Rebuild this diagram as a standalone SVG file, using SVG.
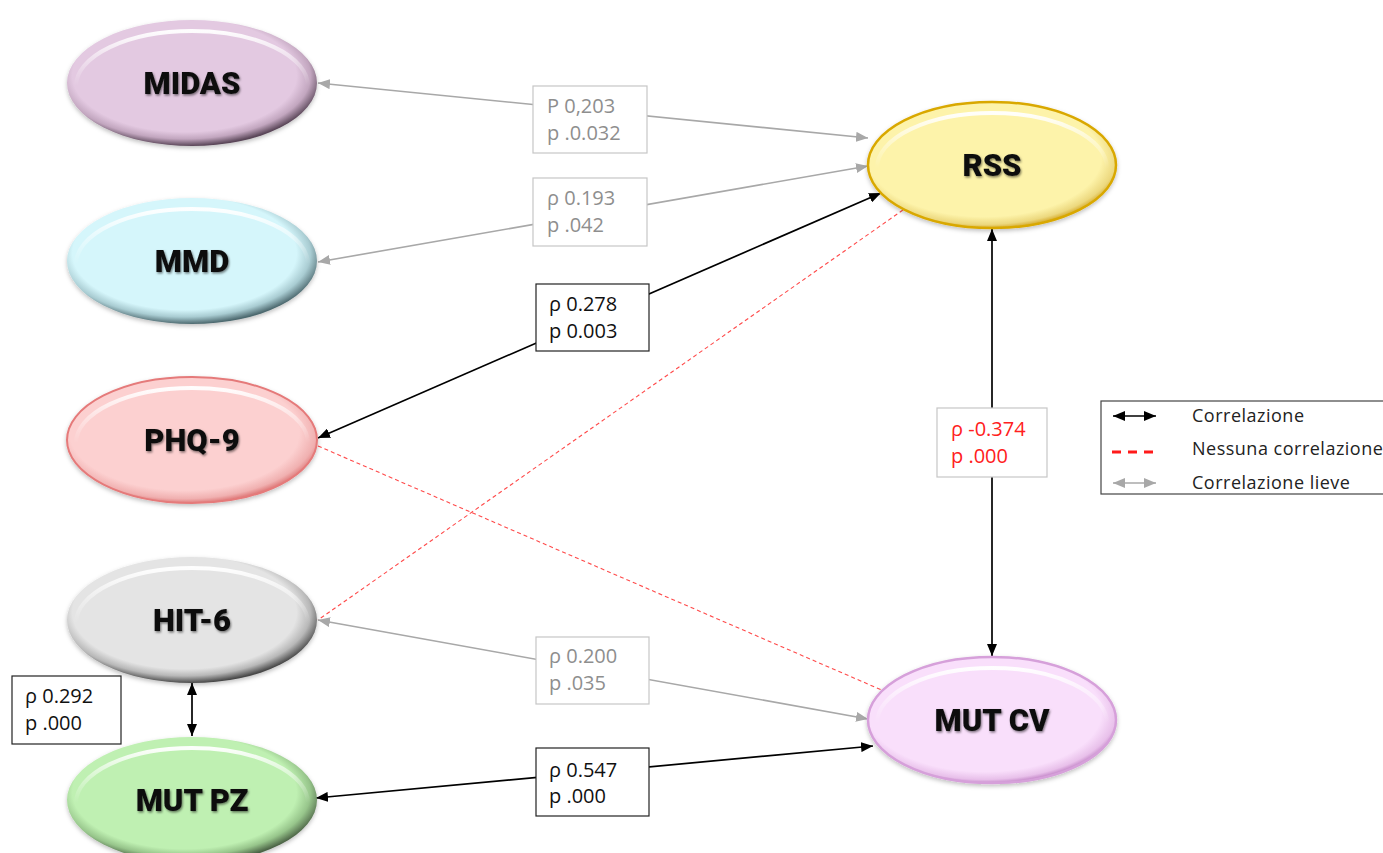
<svg xmlns="http://www.w3.org/2000/svg" width="1383" height="853" viewBox="0 0 1383 853">
  <style>
    .node-label { font-family: Roboto, "Liberation Sans", sans-serif; font-weight: 900; font-size: 31px; fill: #111; text-anchor: middle; }
    .gray-line { stroke: #a8a8a8; stroke-width: 1.6; fill: none; }
    .black-line { stroke: #000; stroke-width: 1.7; fill: none; }
    .red-dash { stroke: #ff4a4a; stroke-width: 1.1; stroke-dasharray: 4 3; fill: none; }
    .box { fill: #fff; stroke-width: 1.2; }
    .box-gray { stroke: #c6c6c6; }
    .box-black { stroke: #222; }
    .stat { font-family: "Open Sans", "Liberation Sans", sans-serif; font-size: 20px; }
    .stat-gray { fill: #8e8e8e; }
    .stat-black { fill: #111; }
    .stat-red { fill: #ff2020; }
    .legend-text { font-family: "Open Sans", "Liberation Sans", sans-serif; font-size: 18px; letter-spacing: 0.5px; fill: #222; }
    .gloss { fill: none; stroke: url(#gloss); stroke-width: 4; }
  </style>
  <defs>
    <marker id="ah-gray" viewBox="0 0 12 10" refX="12" refY="5" markerWidth="12" markerHeight="10" markerUnits="userSpaceOnUse" orient="auto-start-reverse">
      <path d="M0,0 L12,5 L0,10 z" fill="#a8a8a8"/>
    </marker>
    <marker id="ah-black" viewBox="0 0 12 10" refX="12" refY="5" markerWidth="12" markerHeight="10" markerUnits="userSpaceOnUse" orient="auto-start-reverse">
      <path d="M0,0 L12,5 L0,10 z" fill="#000"/>
    </marker>
    <linearGradient id="gloss" x1="0" y1="0" x2="0" y2="1">
      <stop offset="0" stop-color="#fff" stop-opacity="0.95"/>
      <stop offset="0.3" stop-color="#fff" stop-opacity="0.35"/>
      <stop offset="0.5" stop-color="#fff" stop-opacity="0"/>
    </linearGradient>
    <radialGradient id="g-midas" cx="0.47" cy="0.44" r="0.56">
      <stop offset="0" stop-color="#e3c9e1"/>
      <stop offset="0.8" stop-color="#e3c9e1"/>
      <stop offset="0.9" stop-color="#c2a6bf"/>
      <stop offset="1" stop-color="#5a4658"/>
    </radialGradient>
    <radialGradient id="g-mmd" cx="0.47" cy="0.44" r="0.56">
      <stop offset="0" stop-color="#d5f6fb"/>
      <stop offset="0.8" stop-color="#d5f6fb"/>
      <stop offset="0.9" stop-color="#a9ccd2"/>
      <stop offset="1" stop-color="#4e6a70"/>
    </radialGradient>
    <radialGradient id="g-phq" cx="0.47" cy="0.44" r="0.56">
      <stop offset="0" stop-color="#fcd0d0"/>
      <stop offset="0.82" stop-color="#fcd0d0"/>
      <stop offset="0.94" stop-color="#f0b0b0"/>
      <stop offset="1" stop-color="#e07e7e"/>
    </radialGradient>
    <radialGradient id="g-hit" cx="0.47" cy="0.44" r="0.56">
      <stop offset="0" stop-color="#e4e4e4"/>
      <stop offset="0.8" stop-color="#e4e4e4"/>
      <stop offset="0.9" stop-color="#b8b8b8"/>
      <stop offset="1" stop-color="#4a4a4a"/>
    </radialGradient>
    <radialGradient id="g-pz" cx="0.47" cy="0.44" r="0.56">
      <stop offset="0" stop-color="#bff0b2"/>
      <stop offset="0.8" stop-color="#bff0b2"/>
      <stop offset="0.9" stop-color="#97c58b"/>
      <stop offset="1" stop-color="#4c6446"/>
    </radialGradient>
    <radialGradient id="g-rss" cx="0.47" cy="0.44" r="0.56">
      <stop offset="0" stop-color="#fdf3aa"/>
      <stop offset="0.84" stop-color="#fdf3aa"/>
      <stop offset="0.95" stop-color="#ecd87e"/>
      <stop offset="1" stop-color="#d9b23a"/>
    </radialGradient>
    <radialGradient id="g-cv" cx="0.47" cy="0.44" r="0.56">
      <stop offset="0" stop-color="#f9dffb"/>
      <stop offset="0.84" stop-color="#f9dffb"/>
      <stop offset="0.95" stop-color="#e8c0ea"/>
      <stop offset="1" stop-color="#c98fcd"/>
    </radialGradient>
    <filter id="soft" x="-10%" y="-10%" width="120%" height="130%">
      <feDropShadow dx="0" dy="2" stdDeviation="2" flood-color="#000" flood-opacity="0.25"/>
    </filter>
    <filter id="txt" x="-10%" y="-20%" width="120%" height="150%">
      <feDropShadow dx="1" dy="1.5" stdDeviation="1.2" flood-color="#000" flood-opacity="0.5"/>
    </filter>
  </defs>

  <rect width="1383" height="853" fill="#fff"/>

  <!-- connectors -->
  <g id="connectors">
    <line class="red-dash" x1="903" y1="210" x2="318" y2="620"/>
    <line class="red-dash" x1="318" y1="446" x2="884" y2="691"/>
    <line class="gray-line" x1="318" y1="83" x2="868" y2="138" marker-start="url(#ah-gray)" marker-end="url(#ah-gray)"/>
    <line class="gray-line" x1="318" y1="262" x2="868" y2="166" marker-start="url(#ah-gray)" marker-end="url(#ah-gray)"/>
    <line class="black-line" x1="318" y1="438" x2="881" y2="193" marker-start="url(#ah-black)" marker-end="url(#ah-black)"/>
    <line class="black-line" x1="992" y1="229" x2="992" y2="656" marker-start="url(#ah-black)" marker-end="url(#ah-black)"/>
    <line class="gray-line" x1="318" y1="620" x2="868" y2="719" marker-start="url(#ah-gray)" marker-end="url(#ah-gray)"/>
    <line class="black-line" x1="316" y1="798" x2="873" y2="746" marker-start="url(#ah-black)" marker-end="url(#ah-black)"/>
    <line class="black-line" x1="192" y1="683" x2="192" y2="736" marker-start="url(#ah-black)" marker-end="url(#ah-black)"/>

    <!-- coefficient labels -->
    <g id="lbl-midas-rss">
      <rect class="box box-gray" x="533" y="86" width="114" height="67"/>
      <text class="stat stat-gray" x="547" y="113">P 0,203</text>
      <text class="stat stat-gray" x="547" y="140">p .0.032</text>
    </g>
    <g id="lbl-mmd-rss">
      <rect class="box box-gray" x="533" y="178" width="114" height="68"/>
      <text class="stat stat-gray" x="547" y="205">ρ 0.193</text>
      <text class="stat stat-gray" x="547" y="232">p .042</text>
    </g>
    <g id="lbl-phq-rss">
      <rect class="box box-black" x="536" y="284" width="113" height="67"/>
      <text class="stat stat-black" x="549" y="311">ρ 0.278</text>
      <text class="stat stat-black" x="549" y="338">p 0.003</text>
    </g>
    <g id="lbl-rss-cv">
      <rect class="box box-gray" x="937" y="408" width="110" height="69"/>
      <text class="stat stat-red" x="951" y="436">ρ -0.374</text>
      <text class="stat stat-red" x="951" y="463">p .000</text>
    </g>
    <g id="lbl-hit-cv">
      <rect class="box box-gray" x="536" y="637" width="113" height="67"/>
      <text class="stat stat-gray" x="549" y="663">ρ 0.200</text>
      <text class="stat stat-gray" x="549" y="690">p .035</text>
    </g>
    <g id="lbl-pz-cv">
      <rect class="box box-black" x="536" y="748" width="113" height="68"/>
      <text class="stat stat-black" x="549" y="777">ρ 0.547</text>
      <text class="stat stat-black" x="549" y="803">p .000</text>
    </g>
    <g id="lbl-hit-pz">
      <rect class="box box-black" x="12" y="676" width="109" height="68"/>
      <text class="stat stat-black" x="25" y="703">ρ 0.292</text>
      <text class="stat stat-black" x="25" y="730">p .000</text>
    </g>
  </g>

  <!-- nodes -->
  <g id="midas">
    <ellipse cx="192" cy="83" rx="125" ry="63" fill="url(#g-midas)" filter="url(#soft)"/>
    <ellipse class="gloss" cx="192" cy="86" rx="116" ry="55"/>
    <text class="node-label" x="192" y="94" filter="url(#txt)">MIDAS</text>
  </g>
  <g id="mmd">
    <ellipse cx="192" cy="261" rx="125" ry="63" fill="url(#g-mmd)" filter="url(#soft)"/>
    <ellipse class="gloss" cx="192" cy="264" rx="116" ry="55"/>
    <text class="node-label" x="192" y="272" filter="url(#txt)">MMD</text>
  </g>
  <g id="phq9">
    <ellipse cx="192" cy="440" rx="125" ry="63" fill="url(#g-phq)" stroke="#e57a7a" stroke-width="2" filter="url(#soft)"/>
    <ellipse class="gloss" cx="192" cy="443" rx="116" ry="55"/>
    <text class="node-label" x="192" y="451" filter="url(#txt)">PHQ-9</text>
  </g>
  <g id="hit6">
    <ellipse cx="192" cy="620" rx="125" ry="63" fill="url(#g-hit)" filter="url(#soft)"/>
    <ellipse class="gloss" cx="192" cy="623" rx="116" ry="55"/>
    <text class="node-label" x="192" y="631" filter="url(#txt)">HIT-6</text>
  </g>
  <g id="mutpz">
    <ellipse cx="192" cy="800" rx="125" ry="63" fill="url(#g-pz)" filter="url(#soft)"/>
    <ellipse class="gloss" cx="192" cy="803" rx="116" ry="55"/>
    <text class="node-label" x="192" y="811" filter="url(#txt)">MUT PZ</text>
  </g>
  <g id="rss">
    <ellipse cx="992" cy="165" rx="124" ry="63" fill="url(#g-rss)" stroke="#d9a800" stroke-width="2.5" filter="url(#soft)"/>
    <ellipse class="gloss" cx="992" cy="168" rx="115" ry="55"/>
    <text class="node-label" x="992" y="176" filter="url(#txt)">RSS</text>
  </g>
  <g id="mutcv">
    <ellipse cx="992" cy="720" rx="124" ry="63" fill="url(#g-cv)" stroke="#d6a0da" stroke-width="2.5" filter="url(#soft)"/>
    <ellipse class="gloss" cx="992" cy="723" rx="115" ry="55"/>
    <text class="node-label" x="992" y="731" filter="url(#txt)">MUT CV</text>
  </g>

  <!-- legend -->
  <g id="legend">
    <rect x="1101" y="401" width="300" height="93" fill="#fff" stroke="#444" stroke-width="1.2"/>
    <line class="black-line" x1="1113" y1="416" x2="1156" y2="416" marker-start="url(#ah-black)" marker-end="url(#ah-black)"/>
    <line x1="1112" y1="452" x2="1157" y2="452" stroke="#ff1a1a" stroke-width="3" stroke-dasharray="9 7"/>
    <line class="gray-line" x1="1113" y1="483" x2="1156" y2="483" marker-start="url(#ah-gray)" marker-end="url(#ah-gray)"/>
    <text class="legend-text" x="1192" y="422">Correlazione</text>
    <text class="legend-text" x="1192" y="455">Nessuna correlazione</text>
    <text class="legend-text" x="1192" y="489">Correlazione lieve</text>
  </g>
</svg>
